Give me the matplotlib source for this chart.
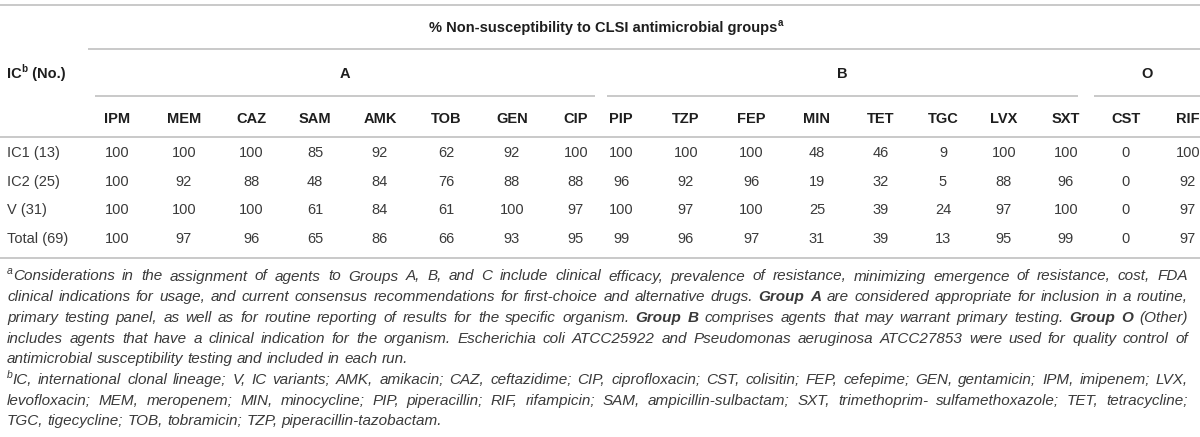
import matplotlib
matplotlib.use("Agg")
import matplotlib.pyplot as plt

plt.rcParams['font.family'] = ['Liberation Sans', 'DejaVu Sans']

# table content
title = "% Non-susceptibility to CLSI antimicrobial groups"
groups = ["A", "B", "O"]
group_cols = [["IPM", "MEM", "CAZ", "SAM", "AMK", "TOB", "GEN", "CIP"],
              ["PIP", "TZP", "FEP", "MIN", "TET", "TGC", "LVX", "SXT"],
              ["CST", "RIF"]]
row_labels = ["IC1 (13)", "IC2 (25)", "V (31)", "Total (69)"]
ic1 = [100, 100, 100, 85, 92, 62, 92, 100, 100, 100, 100, 48, 46, 9, 100, 100, 0, 100]
ic2 = [100, 92, 88, 48, 84, 76, 88, 88, 96, 92, 96, 19, 32, 5, 88, 96, 0, 92]
var = [100, 100, 100, 61, 84, 61, 100, 97, 100, 97, 100, 25, 39, 24, 97, 100, 0, 97]
total = [100, 97, 96, 65, 86, 66, 93, 95, 99, 96, 97, 31, 39, 13, 95, 99, 0, 97]
rows = [ic1, ic2, var, total]

# footnotes: (text, style) chunks, style i = italic, bi = bold italic, sup = superscript
footnotes = [
    [("a", "sup"), ("Considerations in the assignment of agents to Groups A, B, and C include clinical efficacy, "
                    "prevalence of resistance, minimizing emergence of resistance, cost, FDA", "i")],
    [("clinical indications for usage, and current consensus recommendations for first-choice and alternative drugs. ", "i"),
     ("Group A", "bi"), (" are considered appropriate for inclusion in a routine,", "i")],
    [("primary testing panel, as well as for routine reporting of results for the specific organism. ", "i"),
     ("Group B", "bi"), (" comprises agents that may warrant primary testing. ", "i"),
     ("Group O", "bi"), (" (Other)", "i")],
    [("includes agents that have a clinical indication for the organism. Escherichia coli ATCC25922 and "
      "Pseudomonas aeruginosa ATCC27853 were used for quality control of", "i")],
    [("antimicrobial susceptibility testing and included in each run.", "i")],
    [("b", "sup"), ("IC, international clonal lineage; V, IC variants; AMK, amikacin; CAZ, ceftazidime; CIP, "
                    "ciprofloxacin; CST, colisitin; FEP, cefepime; GEN, gentamicin; IPM, imipenem; LVX,", "i")],
    [("levofloxacin; MEM, meropenem; MIN, minocycline; PIP, piperacillin; RIF, rifampicin; SAM, "
      "ampicillin-sulbactam; SXT, trimethoprim- sulfamethoxazole; TET, tetracycline;", "i")],
    [("TGC, tigecycline; TOB, tobramicin; TZP, piperacillin-tazobactam.", "i")],
]
justified = [True, True, True, True, False, True, True, False]

# layout (pixels)
col_x = [117, 184, 251, 315, 380, 446, 512, 576,
         621, 686, 751, 817, 881, 943, 1004, 1066,
         1126, 1188]
group_span = [(95, 595), (607, 1078), (1094, 1200)]
row_y = [152, 181, 209, 238]
fn_y0, fn_dy = 275, 20.7
TXT = "#3a3a3a"
HDR = "#1e1e1e"
LINE = "#c9c9c9"
FS = 10.5
FN_FS = 11

fig = plt.figure(figsize=(12, 4.37), dpi=100)
ax = fig.add_axes([0, 0, 1, 1])
ax.set_xlim(0, 1200)
ax.set_ylim(437, 0)
ax.axis("off")
renderer = fig.canvas.get_renderer()


def seg_props(style, size):
    if style == "sup":
        return dict(fontsize=size * 0.68, style="italic"), -size * 0.55
    if style == "bsup":
        return dict(fontsize=size * 0.68, weight="bold"), -size * 0.55
    if style == "bi":
        return dict(fontsize=size, style="italic", weight="bold"), 0
    if style == "b":
        return dict(fontsize=size, weight="bold"), 0
    if style == "i":
        return dict(fontsize=size, style="italic"), 0
    return dict(fontsize=size), 0


def draw_run(x, y, segs, size, color, align="left"):
    # segs: list of (text, style); laid out left to right
    arts = []
    widths = []
    for text, style in segs:
        props, dy = seg_props(style, size)
        t = ax.text(0, y + dy, text, color=color, va="baseline", ha="left", **props)
        arts.append(t)
        widths.append(t.get_window_extent(renderer).width)
    w = sum(widths)
    if align == "center":
        x = x - w / 2
    for t, wd in zip(arts, widths):
        t.set_x(x)
        x += wd
    return w


def hline(y, x0, x1):
    ax.plot([x0, x1], [y, y], color=LINE, lw=1.4, solid_capstyle="butt")


# rules
hline(5, 0, 1200)
hline(49, 88, 1200)
for x0, x1 in group_span:
    hline(96, x0, x1)
hline(137, 0, 1200)
hline(258, 0, 1200)

base = FS * 100 / 72 * 0.36  # shift from centre to baseline

# header
draw_run(606, 27 + base, [(title, "b"), ("a", "bsup")], FS, HDR, align="center")
draw_run(7, 73 + base, [("IC", "b"), ("b", "bsup"), (" (No.)", "b")], FS, HDR)
for g, (x0, x1) in zip(groups, group_span):
    ax.text((x0 + x1) / 2, 73 + base, g, ha="center", va="baseline",
            fontsize=FS, weight="bold", color=HDR)
names = [c for cols in group_cols for c in cols]
for x, c in zip(col_x, names):
    ax.text(x, 118 + base, c, ha="center", va="baseline", fontsize=FS, weight="bold", color=HDR)

# body
for y, lab, vals in zip(row_y, row_labels, rows):
    ax.text(7, y + base, lab, ha="left", va="baseline", fontsize=FS, color=TXT)
    for x, v in zip(col_x, vals):
        ax.text(x, y + base, str(v), ha="center", va="baseline", fontsize=FS, color=TXT)


# footnotes
def split_words(chunks):
    words, cur = [], []
    for text, style in chunks:
        parts = text.split(" ")
        for i, p in enumerate(parts):
            if i > 0 and cur:
                words.append(cur)
                cur = []
            if p:
                cur.append((p, style))
    if cur:
        words.append(cur)
    return words


t = ax.text(0, 0, "a a", fontsize=FN_FS, style="italic")
t2 = ax.text(0, 0, "aa", fontsize=FN_FS, style="italic")
space_w = t.get_window_extent(renderer).width - t2.get_window_extent(renderer).width
t.remove()
t2.remove()

fx0, fx1 = 7, 1188
for k, (chunks, just) in enumerate(zip(footnotes, justified)):
    y = fn_y0 + k * fn_dy + FN_FS * 100 / 72 * 0.36
    words = split_words(chunks)
    placed = []
    for wd in words:
        arts = []
        for text, style in wd:
            props, dy = seg_props(style, FN_FS)
            tt = ax.text(0, y + dy, text, color=TXT, va="baseline", ha="left", **props)
            arts.append((tt, tt.get_window_extent(renderer).width))
        placed.append(arts)
    word_w = [sum(w for _, w in arts) for arts in placed]
    if just and len(placed) > 1:
        gap = (fx1 - fx0 - sum(word_w)) / (len(placed) - 1)
    else:
        gap = space_w
    x = fx0
    for arts, ww in zip(placed, word_w):
        xx = x
        for tt, w in arts:
            tt.set_x(xx)
            xx += w
        x += ww + gap

fig.savefig("out.png", dpi=100, facecolor="white")
